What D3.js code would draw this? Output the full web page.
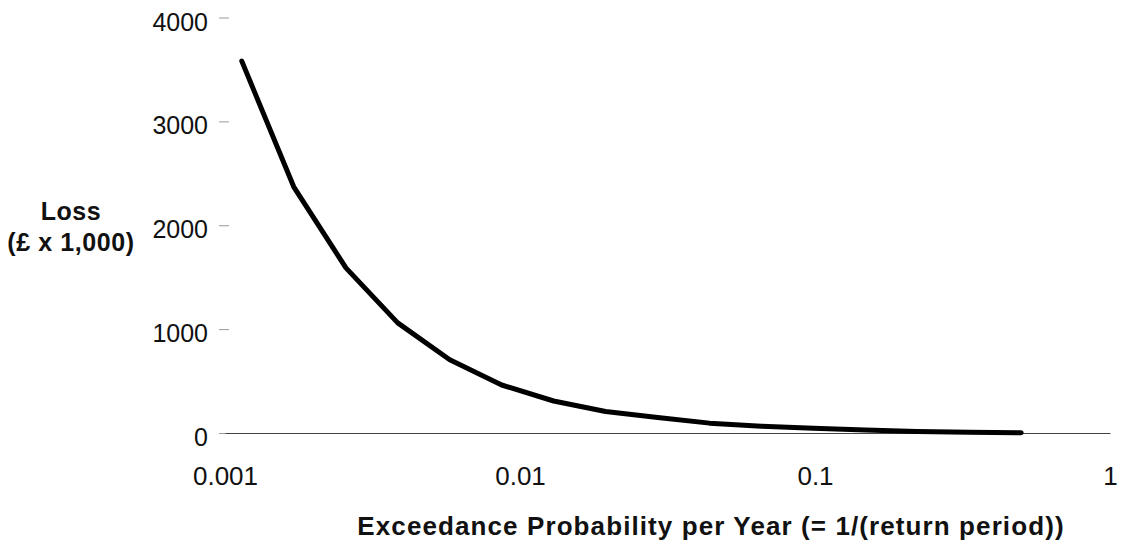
<!DOCTYPE html>
<html>
<head>
<meta charset="utf-8">
<script src="https://cdn.jsdelivr.net/npm/d3@7"></script>
<style>
  body { margin: 0; background: #fff; }
  svg { display: block; font-family: "Liberation Sans", Arial, sans-serif; }
</style>
</head>
<body>
<div id="chart"></div>
<script>
// exceedance probability per year (x) and loss in £ x 1,000 (y)
const probs = [0.00114, 0.00171, 0.00257, 0.00385, 0.00578, 0.00867, 0.0130, 0.0195,
               0.0293, 0.0439, 0.0658, 0.0988, 0.148, 0.222, 0.333, 0.5];
const losses = [3580, 2370, 1590, 1060, 705, 462, 308, 207,
                150, 95, 65, 45, 28, 15, 7, 2];
const xTicks = [0.001, 0.01, 0.1, 1];
const xTickLabels = ["0.001", "0.01", "0.1", "1"];
const yTicks = [0, 1000, 2000, 3000, 4000];
const xTitle = "Exceedance Probability per Year (= 1/(return period))";
const yTitle = ["Loss", "(£ x 1,000)"];

function renderChart() {
  let width = 1122;
  let height = 544;

  let svg = d3.select("#chart")
    .append("svg")
    .attr("width", width)
    .attr("height", height);

  let x = d3.scaleLog()
    .domain([0.001, 1])
    .range([225, 1110]);

  let y = d3.scaleLinear()
    .domain([0, 4000])
    .range([433, 17.5]);

  // y axis: labels and short faint ticks, no line
  let yAxis = svg.append("g")
    .attr("transform", "translate(229,0)")
    .call(d3.axisLeft(y)
      .tickValues(yTicks)
      .tickSize(10)
      .tickPadding(11)
      .tickFormat(d3.format("d")));
  yAxis.select(".domain").remove();
  yAxis.selectAll(".tick line").attr("stroke", "#999").attr("stroke-width", 1);
  yAxis.selectAll(".tick text")
    .attr("dy", "0.5em")
    .attr("font-size", 25)
    .attr("font-family", "Liberation Sans, Arial, sans-serif")
    .attr("fill", "#111");

  // x axis along zero
  let xAxis = svg.append("g")
    .attr("transform", "translate(0," + y(0) + ")")
    .call(d3.axisBottom(x)
      .tickValues(xTicks)
      .tickSize(0)
      .tickSizeOuter(0)
      .tickPadding(34)
      .tickFormat(function (d, i) { return xTickLabels[i]; }));
  xAxis.select(".domain").attr("stroke", "#444").attr("stroke-width", 1.2);
  xAxis.selectAll(".tick text")
    .attr("font-size", 26)
    .attr("font-family", "Liberation Sans, Arial, sans-serif")
    .attr("fill", "#111");

  // loss curve
  let pts = probs.map(function (p, i) { return [p, losses[i]]; });
  let line = d3.line()
    .x(function (d) { return x(d[0]); })
    .y(function (d) { return y(d[1]); });

  svg.append("path")
    .datum(pts)
    .attr("d", line)
    .attr("fill", "none")
    .attr("stroke", "#000")
    .attr("stroke-width", 5)
    .attr("stroke-linejoin", "round")
    .attr("stroke-linecap", "round");

  // titles
  svg.append("text")
    .attr("x", 711)
    .attr("y", 535)
    .attr("text-anchor", "middle")
    .attr("font-size", 26)
    .attr("letter-spacing", 1.1)
    .attr("font-weight", "bold")
    .attr("fill", "#111")
    .text(xTitle);

  svg.selectAll(".ytitle")
    .data(yTitle)
    .enter()
    .append("text")
    .attr("class", "ytitle")
    .attr("x", 71)
    .attr("y", function (d, i) { return 220 + i * 31; })
    .attr("text-anchor", "middle")
    .attr("font-size", 25)
    .attr("letter-spacing", 0.6)
    .attr("font-weight", "bold")
    .attr("fill", "#111")
    .text(function (d) { return d; });
}

renderChart();
</script>
</body>
</html>
